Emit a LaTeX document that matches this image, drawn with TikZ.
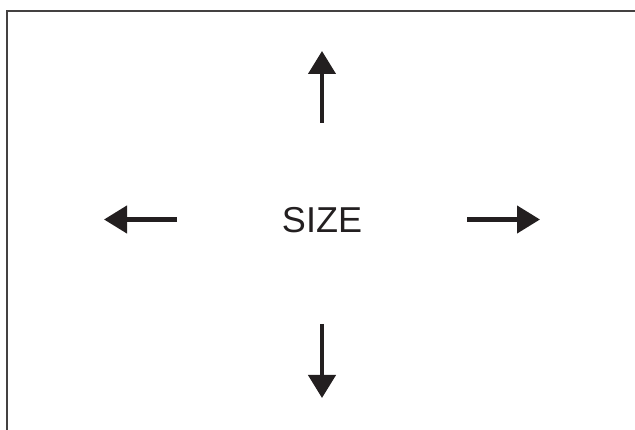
\documentclass[tikz,border=0pt]{standalone}
\usepackage{fontspec}
\setmainfont{Liberation Sans}
\usetikzlibrary{arrows.meta, positioning}
\definecolor{inkdark}{RGB}{35, 31, 32}

\begin{document}
\begin{tikzpicture}[x=1pt, y=-1pt,
    every node/.style={font=\fontsize{36}{42}\selectfont, text=inkdark},
    growarrow/.style={draw=inkdark, line width=4.3pt, -{Triangle[length=23pt, width=27pt]}},
    frameline/.style={draw=inkdark!85, line width=2pt}]

        \useasboundingbox (0,0) rectangle (635,430);

        % Rahmen (nur oben und links)
        \draw[frameline] (7,430) -- (7,11) -- (635,11);

        % Beschriftung
        \node (size) at (322,220) {SIZE};

        % Endpunkte der Pfeile
        \coordinate (upfrom) at (322,123);
        \coordinate (upto) at (322,51);
        \coordinate (downfrom) at (322,324);
        \coordinate (downto) at (322,398);
        \coordinate (leftfrom) at (177,219.5);
        \coordinate (leftto) at (104,219.5);
        \coordinate (rightfrom) at (467,219.5);
        \coordinate (rightto) at (540,219.5);

        % --- PFEILE ---
        \draw[growarrow] (upfrom) -- (upto);
        \draw[growarrow] (downfrom) -- (downto);
        \draw[growarrow] (leftfrom) -- (leftto);
        \draw[growarrow] (rightfrom) -- (rightto);

    \end{tikzpicture}
\end{document}
